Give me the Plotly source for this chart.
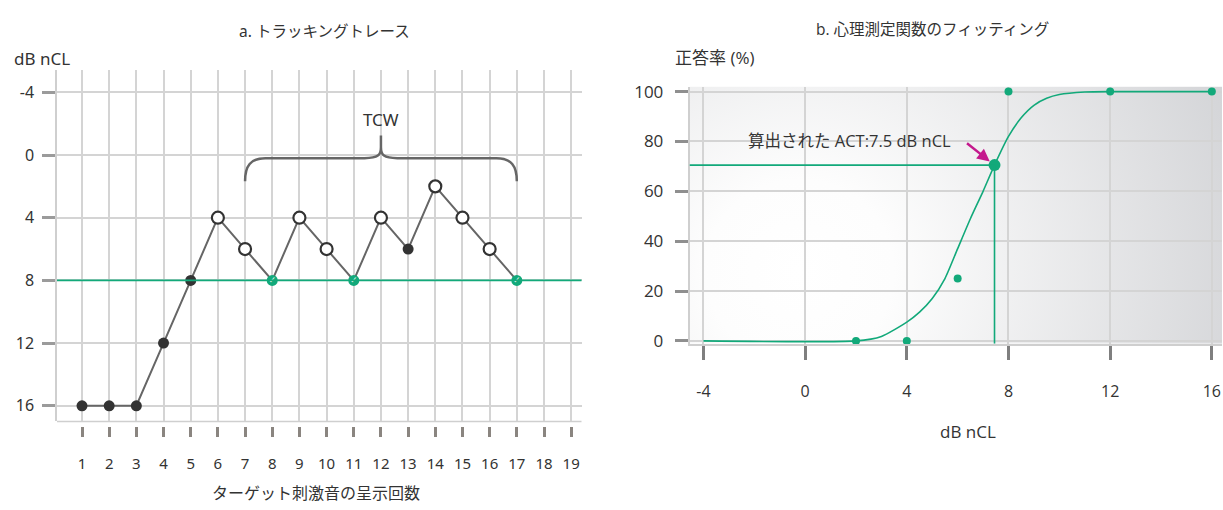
import base64
import plotly.graph_objects as go

# ---------------- Panel a: tracking trace ----------------
trials = list(range(1, 18))
levels = [16, 16, 16, 12, 8, 4, 6, 8, 4, 6, 8, 4, 6, 2, 4, 6, 8]
kinds = ['filled', 'filled', 'filled', 'filled', 'filled', 'open', 'open', 'check',
         'open', 'open', 'check', 'open', 'filled', 'open', 'open', 'open', 'check']
threshold_a = 8
x_ticks_a = list(range(1, 20))
y_ticks_a = [-4, 0, 4, 8, 12, 16]
y_ticklabels_a = ['-4', '0', '4', '8', '12', '16']
tcw_start, tcw_end = 7, 17
tcw_label = 'TCW'

# ---------------- Panel b: psychometric fit ----------------
stim_levels = [2, 4, 6, 8, 12, 16]
pct_correct = [0, 0, 25, 100, 100, 100]
fit_x = [-4, 2, 3, 4, 4.5, 5, 5.5, 6, 6.5, 7, 7.45, 8, 8.5, 9, 9.5, 10, 11, 12, 16]
fit_y = [0, 0, 1.8, 7.5, 11.5, 17, 25, 37, 49, 60, 70.5, 82, 89.5, 94.5, 97.3, 98.8, 99.8, 100, 100]
act_x, act_y = 7.45, 70.5
act_text = '算出された ACT:7.5 dB nCL'
x_ticks_b = [-4, 0, 4, 8, 12, 16]
x_ticklabels_b = ['-4', '0', '4', '8', '12', '16']
y_ticks_b = [0, 20, 40, 60, 80, 100]

GREEN = '#12a97a'
DARK = '#333333'
LINE = '#666666'
GRID = '#d4d4d4'
JP = 'Noto Sans, Noto Sans CJK JP, sans-serif'
OS = 'Open Sans, Noto Sans CJK JP, sans-serif'

W, H = 1223, 510


def px(x):
    return x / W


def py(y):
    return 1 - y / H


fig = go.Figure()

# --- panel a traces ---
fig.add_trace(go.Scatter(x=trials, y=levels, mode='lines',
                         line=dict(color=LINE, width=2), xaxis='x', yaxis='y',
                         hoverinfo='skip'))


def pick(kind):
    xs = [t for t, k in zip(trials, kinds) if k == kind]
    ys = [l for l, k in zip(levels, kinds) if k == kind]
    return xs, ys


fx, fy = pick('filled')
fig.add_trace(go.Scatter(x=fx, y=fy, mode='markers', xaxis='x', yaxis='y',
                         marker=dict(color=DARK, size=11, line=dict(width=0))))
ox, oy = pick('open')
fig.add_trace(go.Scatter(x=ox, y=oy, mode='markers', xaxis='x', yaxis='y',
                         marker=dict(color='white', size=12, line=dict(color=DARK, width=2.2))))
cx, cy = pick('check')
fig.add_trace(go.Scatter(x=cx, y=cy, mode='markers+text', xaxis='x', yaxis='y',
                         text=['✓'] * len(cx), textposition='middle center',
                         textfont=dict(color='white', size=9, family='DejaVu Sans'),
                         marker=dict(color=GREEN, size=11, line=dict(width=0))))

# threshold line (a)
fig.add_shape(type='line', xref='x domain', x0=0, x1=1, yref='y', y0=threshold_a, y1=threshold_a,
              line=dict(color=GREEN, width=1.6), layer='above')
# bottom boundary (a)
fig.add_shape(type='line', xref='x domain', x0=0, x1=1, yref='y domain', y0=0, y1=0,
              line=dict(color='#cfcfcf', width=1.5), layer='below')

# TCW brace built from tcw_start / tcw_end
mid = (tcw_start + tcw_end) / 2
y_end, y_h, y_mid, y_top = 1.67, 0.2, -0.5, -1.25
r = 0.75
brace = (f'M {tcw_start},{y_end} C {tcw_start},{y_h + 0.5} {tcw_start + 0.2},{y_h} {tcw_start + r},{y_h} '
         f'L {mid - 0.6},{y_h} C {mid - 0.1},{y_h} {mid},{y_h - 0.2} {mid},{y_mid} '
         f'L {mid},{y_top} M {mid},{y_mid} '
         f'C {mid},{y_h - 0.2} {mid + 0.1},{y_h} {mid + 0.6},{y_h} '
         f'L {tcw_end - r},{y_h} C {tcw_end - 0.2},{y_h} {tcw_end},{y_h + 0.5} {tcw_end},{y_end}')
fig.add_shape(type='path', path=brace, xref='x', yref='y',
              line=dict(color=LINE, width=2.5), layer='above')
fig.add_annotation(x=mid, y=-2.25, xref='x', yref='y', text=tcw_label, showarrow=False,
                   font=dict(size=17, color=DARK, family=JP))

# --- panel b traces ---
fig.add_trace(go.Scatter(x=fit_x, y=fit_y, mode='lines', xaxis='x2', yaxis='y2',
                         line=dict(color=GREEN, width=1.6, shape='spline', smoothing=0.6)))
fig.add_trace(go.Scatter(x=stim_levels, y=pct_correct, mode='markers', xaxis='x2', yaxis='y2',
                         marker=dict(color=GREEN, size=8), cliponaxis=False))
fig.add_shape(type='line', xref='x2', yref='y2', x0=-4.55, x1=act_x, y0=act_y, y1=act_y,
              line=dict(color=GREEN, width=1.6))
fig.add_shape(type='line', xref='x2', yref='y2', x0=act_x, x1=act_x, y0=-1.17, y1=act_y,
              line=dict(color=GREEN, width=1.6))
fig.add_trace(go.Scatter(x=[act_x], y=[act_y], mode='markers', xaxis='x2', yaxis='y2',
                         marker=dict(color=GREEN, size=12)))
fig.add_annotation(x=act_x, y=act_y, xref='x2', yref='y2', text='', showarrow=True,
                   ax=-29, ay=-23, arrowhead=2, arrowsize=1, arrowwidth=2.5,
                   arrowcolor='#c4198d', standoff=6)
fig.add_annotation(x=5.8, y=80.5, xref='x2', yref='y2', text=act_text, showarrow=False,
                   xanchor='right', font=dict(size=16.5, color=DARK, family=OS))

# gradient background for panel b
svg = ("<svg xmlns='http://www.w3.org/2000/svg' width='532' height='265' viewBox='0 0 532 265' "
       "preserveAspectRatio='none'><defs><radialGradient id='g' gradientUnits='userSpaceOnUse' "
       "cx='110' cy='190' r='470'><stop offset='0' stop-color='#ffffff'/>"
       "<stop offset='0.2' stop-color='#fdfdfd'/><stop offset='1' stop-color='#d3d4d7'/>"
       "</radialGradient></defs><rect width='532' height='265' fill='url(#g)'/></svg>")
src = 'data:image/svg+xml;base64,' + base64.b64encode(svg.encode()).decode()
fig.add_layout_image(source=src, xref='x2 domain', yref='y2 domain', x=0, y=1,
                     sizex=1, sizey=1, sizing='stretch', xanchor='left', yanchor='top',
                     layer='below')


# titles and axis titles (as annotations), positions given in page pixels
def ann(x, y, text, size, family=JP, xanchor='center'):
    fig.add_annotation(x=px(x), y=py(y), xref='paper', yref='paper', text=text, showarrow=False,
                       xanchor=xanchor, yanchor='middle', font=dict(size=size, color=DARK, family=family))


ann(324, 25, 'a. トラッキングトレース', 15.5)
ann(42, 53, 'dB nCL', 17)
ann(316, 501, 'ターゲット刺激音の呈示回数', 16)
ann(932, 23, 'b. 心理測定関数のフィッティング', 15.5, OS)
ann(715, 52, '正答率 (%)', 17, OS)
ann(968, 437, 'dB nCL', 17, OS)

fig.update_layout(
    width=W, height=H, margin=dict(l=0, r=0, t=0, b=0),
    paper_bgcolor='white', plot_bgcolor='rgba(0,0,0,0)', showlegend=False,
    font=dict(family=JP, color=DARK),
    xaxis=dict(domain=[px(57), px(581.5)], range=[0.08, 19.38], anchor='free', position=py(432),
               tickmode='array', tickvals=x_ticks_a, ticks='outside', ticklen=10, tickwidth=2.5,
               tickcolor='#8a8580', showgrid=True, gridcolor=GRID, gridwidth=1.5, showline=False,
               zeroline=False, tickfont=dict(size=15, color=DARK, family=JP), ticklabelstandoff=14),
    yaxis=dict(domain=[py(427), py(65)], range=[17.0, -5.42], anchor='x',
               tickmode='array', tickvals=y_ticks_a, ticktext=y_ticklabels_a, ticks='outside',
               ticklen=13, tickwidth=3, tickcolor='#9b9b9b', showline=True, linecolor='#cfcfcf',
               linewidth=1.5, showgrid=True, gridcolor=GRID, gridwidth=1.5, zeroline=False,
               tickfont=dict(size=16, color=DARK, family=JP), ticklabelstandoff=5),
    xaxis2=dict(domain=[px(689.5), px(1222)], range=[-4.55, 16.4], anchor='y2',
                tickmode='array', tickvals=x_ticks_b, ticktext=x_ticklabels_b, ticks='outside',
                ticklen=14, tickwidth=2.5,
                tickcolor='#7f7f7f', showline=True, linecolor='#cfcfcf', linewidth=1.5,
                showgrid=True, gridcolor=GRID, gridwidth=1.5, zeroline=False,
                tickfont=dict(size=16, color=DARK, family=OS), ticklabelstandoff=18),
    yaxis2=dict(domain=[py(347), py(82)], range=[-1.17, 102], anchor='x2',
                tickmode='array', tickvals=y_ticks_b, ticks='outside', ticklen=13, tickwidth=2.5,
                tickcolor='#8f8f8f', showline=True, linecolor='#cfcfcf', linewidth=1.5,
                showgrid=True, gridcolor=GRID, gridwidth=1.5, zeroline=False,
                tickfont=dict(size=17, color=DARK, family=OS), ticklabelstandoff=8),
)

fig.write_html("out.html", config={'displayModeBar': False},
               post_script="document.body.style.margin='0';document.body.style.overflow='hidden';")
